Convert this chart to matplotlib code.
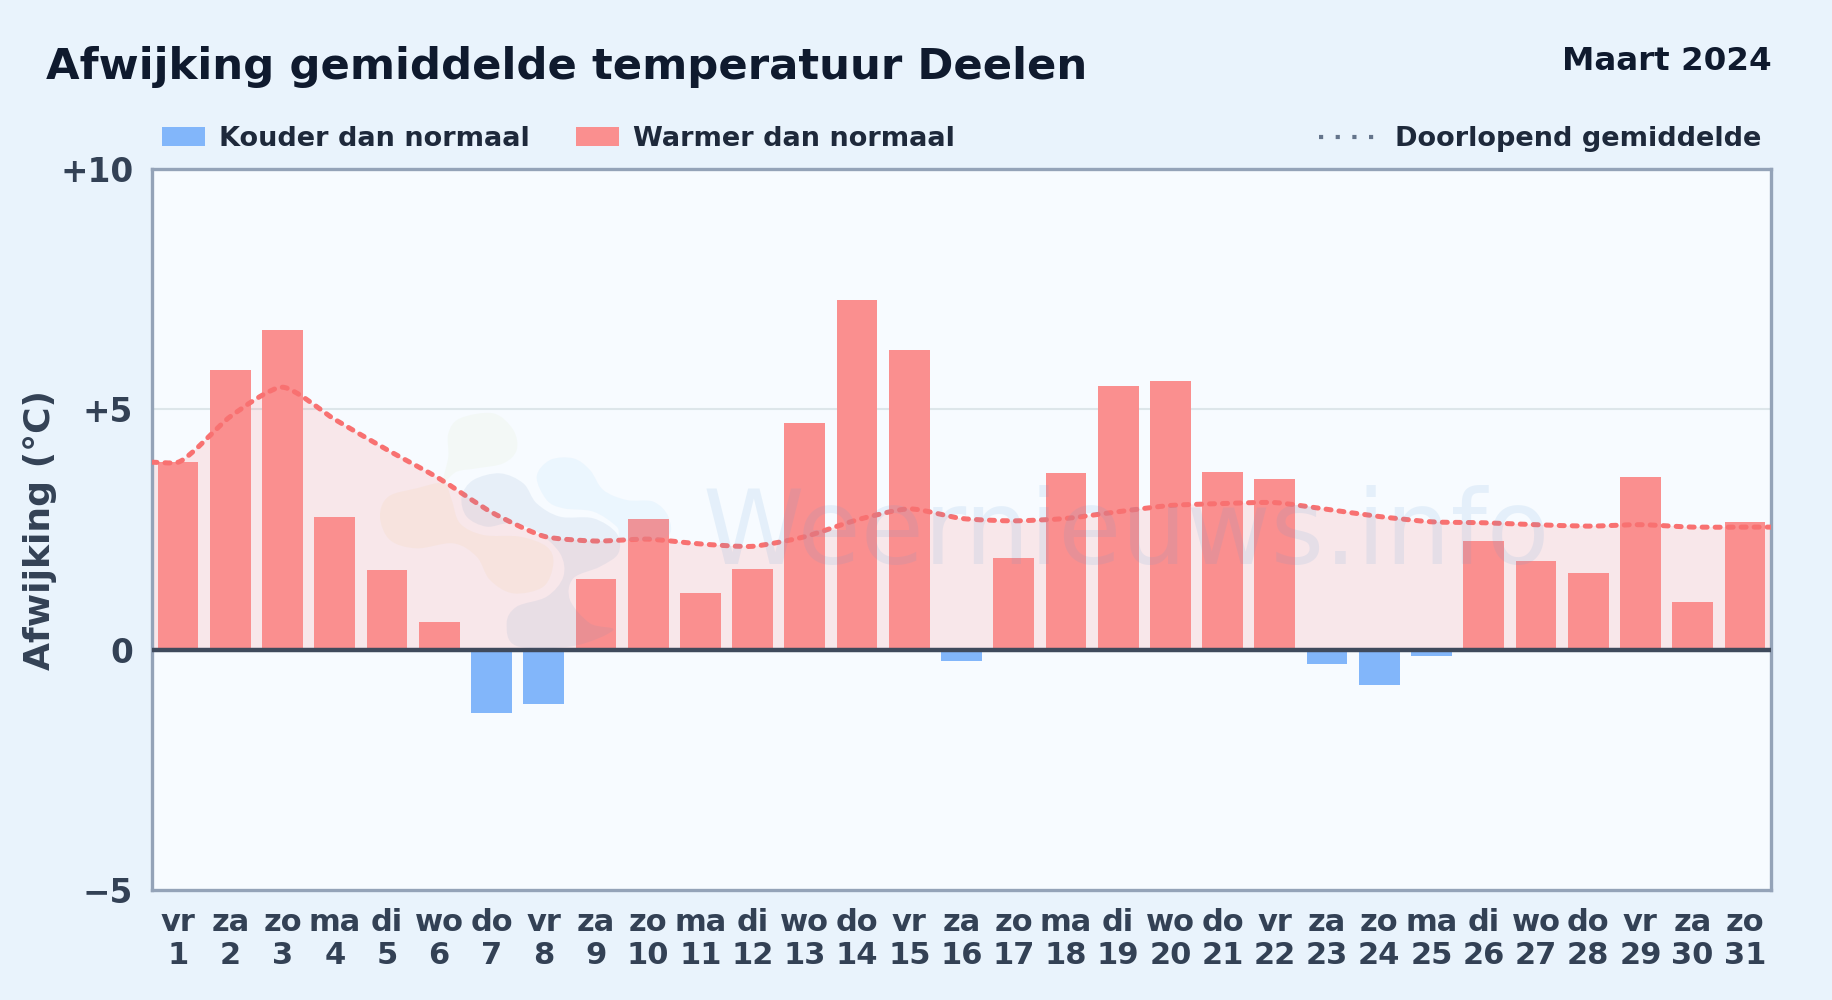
# Afwijking gemiddelde temperatuur, Deelen, maart 2024
import numpy as np
import matplotlib
matplotlib.use('Agg')
import matplotlib.pyplot as plt
from matplotlib.path import Path
from matplotlib.patches import PathPatch, Patch
from matplotlib.lines import Line2D

# Data
weekdays = ['vr','za','zo','ma','di','wo','do','vr','za','zo','ma','di','wo','do','vr','za',
            'zo','ma','di','wo','do','vr','za','zo','ma','di','wo','do','vr','za','zo']
days = list(range(1, 32))
deviation = [3.90, 5.81, 6.65, 2.77, 1.65, 0.58, -1.31, -1.12, 1.46, 2.71, 1.17, 1.67, 4.71, 7.27, 6.23, -0.24,
             1.90, 3.67, 5.48, 5.58, 3.69, 3.56, -0.29, -0.74, -0.14, 2.27, 1.85, 1.60, 3.60, 1.00, 2.65]
running_mean = [3.90, 4.85, 5.46, 4.79, 4.16, 3.56, 2.86, 2.36, 2.26, 2.30, 2.20, 2.15, 2.35, 2.70, 2.93, 2.73,
                2.68, 2.73, 2.87, 3.00, 3.04, 3.06, 2.92, 2.77, 2.66, 2.64, 2.60, 2.57, 2.60, 2.55, 2.55]
y_ticks = [-5, 0, 5, 10]
y_labels = ['\u22125', '0', '+5', '+10']

# Colours
BG = '#e9f3fc'
PLOT_BG = '#f7fbff'
TITLE = '#0f1a2e'
TEXT = '#334155'
LEGEND = '#1e293b'
FRAME = '#94a3b8'
COLD = '#82b6fa'
WARM = '#fa8f8f'
LINE = '#f87171'
FILL = '#ff7070'

# Logo shapes of the watermark, (x, y) in pixels of a crop at (360, 390), 3x
logo_green = [(265,130),(300,85),(400,70),(460,120),(470,180),(430,220),(350,235),(290,245),(250,275),(265,200)]
logo_orange = [(60,380),(85,320),(170,295),(250,280),(275,330),(300,400),(370,435),(480,440),(560,470),(580,520),
               (550,590),(460,610),(390,570),(350,500),(280,460),(170,475),(90,450)]
logo_blue = [(305,320),(340,270),(420,250),(490,280),(530,340),(600,380),(700,385),(770,430),(775,490),(720,530),
             (640,565),(630,630),(690,700),(760,720),(640,768),(470,768),(440,700),(470,650),(560,620),(610,560),
             (600,490),(530,425),(450,400),(380,410),(320,380)]
logo_sky = [(530,260),(570,210),(640,205),(690,240),(730,300),(800,330),(880,335),(925,380),(920,440),(790,450),
            (770,410),(700,365),(610,355),(560,330)]

plt.rcParams['font.family'] = 'DejaVu Sans'
plt.rcParams['font.weight'] = 'bold'

fig = plt.figure(figsize=(18.32, 10.0), dpi=100, facecolor=BG)
W, H = 1832.0, 1000.0
ax = fig.add_axes([152/W, 1-890/H, (1771-152)/W, (890-169)/H], facecolor=PLOT_BG)

x = np.array(days, dtype=float)
y = np.array(running_mean)
dev = np.array(deviation)
ax.set_xlim(0.5, 31.5)
ax.set_ylim(-5, 10)


# Smooth curve through the daily values as Bezier segments
def smooth_path(xs, ys, close_to=None, k=0.22):
    m = np.gradient(ys, xs)
    verts = [(xs[0], ys[0])]
    codes = [Path.MOVETO]
    for i in range(len(xs)-1):
        h = (xs[i+1]-xs[i]) * k
        verts += [(xs[i]+h, ys[i]+m[i]*h), (xs[i+1]-h, ys[i+1]-m[i+1]*h), (xs[i+1], ys[i+1])]
        codes += [Path.CURVE4]*3
    if close_to is not None:
        verts += [(xs[-1], close_to), (xs[0], close_to), (xs[0], close_to)]
        codes += [Path.LINETO, Path.LINETO, Path.CLOSEPOLY]
    return Path(verts, codes)


# Closed blob through crop points, in figure fractions
def blob_path(points):
    p = np.array(points, dtype=float)
    p = np.column_stack([(360 + p[:, 0]/3)/W, 1-(390 + p[:, 1]/3)/H])
    n = len(p)
    verts = [tuple(p[0])]
    codes = [Path.MOVETO]
    for i in range(n):
        a, b, c, d = p[i-1], p[i], p[(i+1) % n], p[(i+2) % n]
        verts += [tuple(b+(c-a)/6), tuple(c-(d-b)/6), tuple(c)]
        codes += [Path.CURVE4]*3
    return Path(verts, codes)


xs = np.concatenate([[0.5], x, [31.5]])
ys = np.concatenate([[y[0]], y, [y[-1]]])

ax.add_patch(PathPatch(smooth_path(xs, ys, 0), fc=FILL, ec='none', alpha=0.14, zorder=1.5))
ax.axhline(5, color='#dde6ea', lw=1.5, zorder=1)
ax.bar(x, dev, width=0.78, color=[WARM if v >= 0 else COLD for v in dev], zorder=2)
ax.add_patch(PathPatch(smooth_path(xs, ys), fc='none', ec=LINE, lw=3.6, ls=(0, (1.0, 1.6)),
                       capstyle='round', zorder=3))
ax.axhline(0, color='#3f4a5c', lw=3.2, zorder=4)

# Watermark over the plot
for pts, col, a in [(logo_green, '#c4dd8e', 0.08), (logo_orange, '#eebf66', 0.09),
                    (logo_blue, '#5f8fc0', 0.10), (logo_sky, '#7cc4f5', 0.09)]:
    ax.add_patch(PathPatch(blob_path(pts), fc=col, ec='none', alpha=a, transform=fig.transFigure, zorder=5))
ax.text(703/W, 1-564/H, 'Weernieuws.info', transform=fig.transFigure, fontsize=74, fontweight='normal',
        color='#5f9fd8', alpha=0.12, ha='left', va='baseline', zorder=5)

for s in ax.spines.values():
    s.set_color(FRAME)
    s.set_linewidth(2.4)

ax.set_yticks(y_ticks)
ax.set_yticklabels(y_labels, fontsize=23.6, color=TEXT, fontweight='bold')
ax.set_xticks(days)
ax.set_xticklabels([f'{a}\n{b}' for a, b in zip(weekdays, days)], fontsize=22, color=TEXT,
                   fontweight='bold', linespacing=1.18)
ax.tick_params(axis='both', length=0)
ax.tick_params(axis='x', pad=13)
ax.tick_params(axis='y', pad=13.5)

# Texts around the plot, positions in pixels of the reference
fig.text(46/W, 1-66.5/H, 'Afwijking gemiddelde temperatuur Deelen', fontsize=31.2, color=TITLE,
         fontweight='bold', va='center', ha='left')
fig.text(1772/W, 1-62/H, 'Maart 2024', fontsize=23.4, color=TITLE, fontweight='bold', va='center', ha='right')
fig.text(40/W, 1-530/H, 'Afwijking (°C)', fontsize=26, color=TEXT, fontweight='bold', rotation=90,
         va='center', ha='center')

# Legend built from proxy artists
fig.legend(handles=[Patch(fc=COLD, label='Kouder dan normaal'), Patch(fc=WARM, label='Warmer dan normaal')],
           loc='center left', bbox_to_anchor=(162/W, 1-139/H), ncol=2, frameon=False, fontsize=19.5,
           labelcolor=LEGEND, handlelength=1.6, handleheight=0.75, handletextpad=0.52,
           columnspacing=1.69, borderpad=0, borderaxespad=0)
fig.legend(handles=[Line2D([], [], color='#64748b', lw=3, ls=(0, (1, 3)), label='Doorlopend gemiddelde')],
           loc='center right', bbox_to_anchor=(1761/W, 1-139/H), frameon=False, fontsize=19.5,
           labelcolor=LEGEND, handlelength=2.0, handletextpad=0.78, borderpad=0, borderaxespad=0)

fig.savefig('out.png', dpi=100, facecolor=BG)
